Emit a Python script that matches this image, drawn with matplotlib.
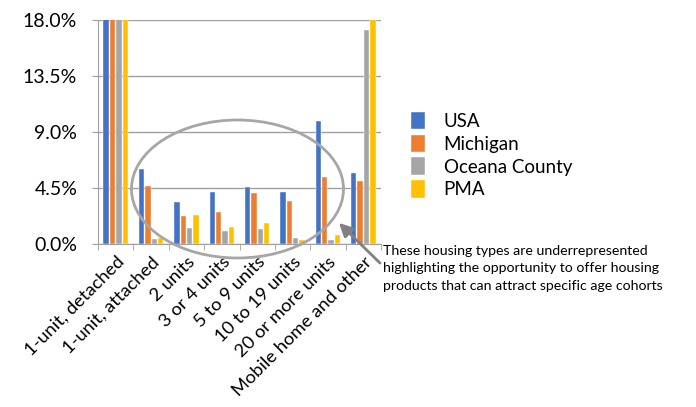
import numpy as np
import matplotlib.pyplot as plt
from matplotlib.patches import Ellipse

categories = ["1-unit, detached", "1-unit, attached", "2 units", "3 or 4 units",
              "5 to 9 units", "10 to 19 units", "20 or more units", "Mobile home and other"]
usa = [61.6, 6.05, 3.35, 4.2, 4.55, 4.2, 9.88, 5.7]
michigan = [71.9, 4.66, 2.25, 2.6, 4.12, 3.48, 5.41, 5.06]
oceana = [76.5, 0.43, 1.29, 1.04, 1.18, 0.5, 0.29, 17.2]
pma = [74.0, 0.5, 2.36, 1.39, 1.71, 0.29, 0.72, 18.5]
series_names = ["USA", "Michigan", "Oceana County", "PMA"]
colors = ["#4472C4", "#ED7D31", "#A5A5A5", "#FFC000"]
yticks = [0.0, 4.5, 9.0, 13.5, 18.0]

plt.rcParams['font.family'] = ['Lato', 'DejaVu Sans']

fig = plt.figure(figsize=(6.96, 4.07), dpi=100)
ax = fig.add_axes([98/696, 1-244/407, 283/696, 224/407])

x = np.arange(len(categories))
w = 0.15
step = 0.18
for i, (vals, name, c) in enumerate(zip([usa, michigan, oceana, pma], series_names, colors)):
    ax.bar(x + (i-1.5)*step, vals, width=w, color=c, label=name,
           edgecolor="white", linewidth=0.3, zorder=3)

ax.set_xlim(-0.5, len(categories)-0.5)
ax.set_ylim(0, 18)
ax.set_yticks(yticks)
ax.set_yticklabels([f"{v:.1f}%" for v in yticks], fontsize=14)
ax.yaxis.grid(True, color="#A0A0A0", linewidth=1, zorder=0)
ax.tick_params(axis="y", length=4, color="#A0A0A0", pad=11)

ax.set_xticks(x)
ax.set_xticklabels(categories, rotation=45, ha="right", rotation_mode="anchor", fontsize=13.2)
ax.set_xticks(np.arange(len(categories)+1)-0.5, minor=True)
ax.tick_params(axis="x", which="major", length=0, pad=7)
ax.tick_params(axis="x", which="minor", length=4, color="#A0A0A0")

for s in ["top", "right"]:
    ax.spines[s].set_visible(False)
ax.spines["left"].set_color("#A0A0A0")
ax.spines["bottom"].set_color("#A0A0A0")

ax.legend(loc="upper left", bbox_to_anchor=(394/696, 1-95/407), bbox_transform=fig.transFigure,
          frameon=False, fontsize=13.5, handlelength=0.75, handleheight=1.05,
          handletextpad=1.0, labelspacing=0.25)

ell = Ellipse((237.5/696, 1-189/407), 212/696, 138/407, transform=fig.transFigure,
              fill=False, edgecolor="#A6A6A6", linewidth=2)
fig.patches.append(ell)

fig.text(383/696, 1-245/407,
         "These housing types are underrepresented\n"
         "highlighting the opportunity to offer housing\n"
         "products that can attract specific age cohorts",
         fontsize=10.2, va="top", ha="left", linespacing=1.55)

ax.annotate("", xy=(337/696, 1-221/407), xycoords="figure fraction",
            xytext=(382/696, 1-265/407), textcoords="figure fraction",
            arrowprops=dict(arrowstyle="-|>,head_length=0.8,head_width=0.4",
                            color="#808080", linewidth=2))

fig.savefig("out.png", dpi=100)
